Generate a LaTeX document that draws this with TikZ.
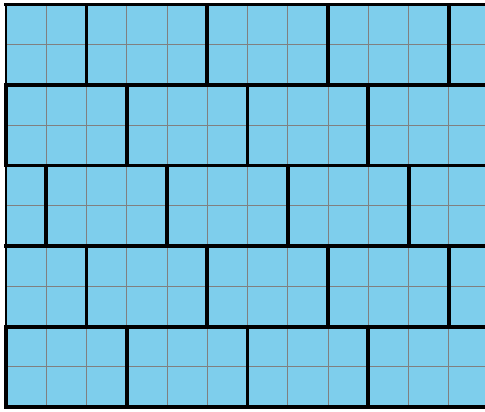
\documentclass[tikz,border=0pt]{standalone}
\usepackage{xcolor}
\definecolor{brickblue}{RGB}{126,206,236}
\begin{document}
\begin{tikzpicture}[
                cell/.style={draw=gray, line width=0.6pt},
                joint/.style={draw=black, line width=2.8pt, line cap=rect},
                cutedge/.style={draw=black, line width=0.8pt}
            ]
            \useasboundingbox (-0.149,-0.099) rectangle (11.9,10.112);
            \clip (-0.149,-0.099) rectangle (11.9,10.112);
            \fill[brickblue] (0,0) rectangle (12,10);
            \draw[cell] (0,0) grid (12,10);
            % left side of the cut bricks
            \draw[cutedge] (0,0) -- (0,10);
            % bed joints
            \foreach \y in {0,2,...,10}
                \draw[joint] (0,\y) -- (12.5,\y);
            % head joints, one course at a time
            \foreach \y/\off in {8/2,6/0,4/1,2/2,0/0}
                \foreach \k in {0,...,4}
                    \draw[joint] ({\off+3*\k},\y) -- ++(0,2);
        \end{tikzpicture}
\end{document}
